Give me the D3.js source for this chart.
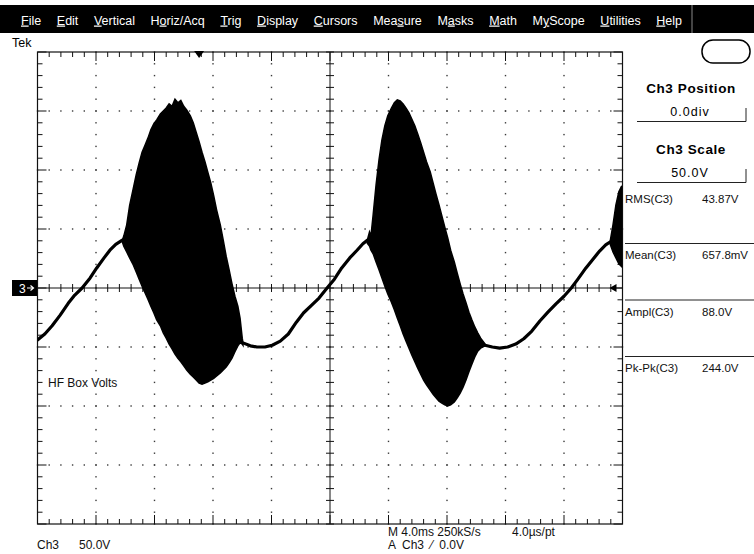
<!DOCTYPE html>
<html lang="en">
<head>
<meta charset="UTF-8">
<title>HF Box Volts</title>
<script src="https://d3js.org/d3.v7.min.js"></script>
<style>
    body{margin:0;background:#fff;}
    svg{display:block;font-family:"Liberation Sans",Arial,sans-serif;}
    .menu text{fill:#fff;font-size:12.5px;}
    .panel{font-size:11.5px;fill:#111;}
    .readout{font-size:12px;fill:#111;white-space:pre;}
</style>
</head>
<body>
<div id="fig"></div>
<script>
    // ---- data (time in ms, level in V) ----
    let menuItems = ["File","Edit","Vertical","Horiz/Acq","Trig","Display","Cursors","Measure","Masks","Math","MyScope","Utilities","Help"]
    let menuKeys  = [0,0,0,1,0,0,0,3,1,0,1,0,0]

    let measNames  = ["RMS(C3)","Mean(C3)","Ampl(C3)","Pk-Pk(C3)"]
    let measValues = ["43.87V","657.8mV","88.0V","244.0V"]

    let chLabel = "Ch3", chScale = "50.0V", chPos = "0.0div"
    let timebase = "M 4.0ms 250kS/s", perPoint = "4.0\u00b5s/pt"
    let trigText = "A  Ch3  \u2044  0.0V"
    let trigPos = 11.05, trigLevel = 0

    let sineA = [[0.0,-44],[0.5,-39],[1.0,-32],[1.55,-23],[2.1,-13],[2.55,-6],[3.05,0],[3.6,8.5],
                 [4.05,17],[4.55,25.5],[4.95,32],[5.35,37],[5.8,40.5]]
    let sineB = [[14.05,-46.5],[14.55,-49],[15.0,-50],[15.55,-50],[16.05,-48.5],[16.6,-45],[17.15,-39],
                 [17.7,-29],[18.2,-21],[18.75,-14.5],[19.25,-8.5],[19.8,0],[20.3,7.5],[20.8,17],
                 [21.35,25.5],[21.85,32],[22.25,37.5],[22.55,40.5]]
    let sineC = [[30.6,-48.5],[31.1,-50],[31.6,-51],[32.15,-50],[32.7,-47.5],[33.25,-43],[33.8,-36.5],
                 [34.35,-28],[34.9,-20.5],[35.45,-13.5],[36.0,-7],[36.5,0],[36.95,7.5],[37.5,17],
                 [38.05,25.5],[38.45,31.5],[38.85,36.5],[39.15,39]]

    // bursts: [time, upper, lower]
    let burst1 = [[5.8,40.5,39],[5.9,44,35.5],[6.1,53.5,30.5],[6.3,70,25.5],[6.55,84.5,19.5],[6.75,96,13.5],
                  [6.95,106,7.5],[7.15,115,1.5],[7.35,121,-4],[7.55,127,-9.5],[7.75,134,-15.5],[7.95,139,-21],
                  [8.15,142.5,-27],[8.4,147.5,-32],[8.6,150,-38],[8.8,152.5,-42.5],[9.0,156,-47.5],[9.2,154,-51.5],
                  [9.4,160,-56],[9.6,157,-59.5],[9.8,159,-62.5],[10.0,154,-66],[10.2,151,-69.5],[10.45,146,-73],
                  [10.65,140,-75.5],[10.85,132,-78],[11.05,124,-80.5],[11.25,115,-81.5],[11.45,107,-80.5],
                  [11.65,98,-79.5],[11.85,89,-78],[12.05,78,-76.5],[12.25,66,-74.5],[12.5,53.5,-72],
                  [12.7,40.5,-69.5],[12.9,27,-67],[13.1,15.5,-63.5],[13.3,3.5,-59.5],[13.5,-7,-54],
                  [13.7,-15.5,-49],[13.85,-25.5,-46.5],[14.0,-42.5,-47.5],[14.05,-46.5,-48.5]]
    let burst2 = [[22.55,40.5,38],[22.7,47.5,35.5],[22.8,44,32],[22.95,62,29],[23.15,87.5,22],[23.35,108.5,15.5],
                  [23.55,125.5,8.5],[23.75,137.5,1.5],[23.95,146,-5],[24.2,152.5,-12],[24.4,157,-18.5],
                  [24.6,159.5,-25.5],[24.8,158.5,-32],[25.0,156,-39],[25.2,152.5,-45],[25.4,148.5,-51],
                  [25.6,143,-57],[25.8,137.5,-62.5],[26.0,130.5,-68],[26.2,123,-73],[26.4,115,-78],
                  [26.6,107,-82],[26.85,98.5,-86.5],[27.05,89,-90],[27.25,79.5,-93],[27.45,70.5,-96],
                  [27.65,61,-97.5],[27.85,51.5,-99],[28.05,42.5,-100],[28.25,32,-99],[28.5,22,-96.5],
                  [28.7,12.5,-93],[28.9,3.5,-89],[29.1,-5,-84],[29.3,-12.5,-78],[29.5,-20.5,-71],
                  [29.7,-27,-64.5],[29.9,-33,-58.5],[30.1,-38,-53.5],[30.3,-42.5,-51],[30.6,-47.5,-49]]
    let burst3 = [[39.15,39,37.5],[39.35,53.5,30.5],[39.55,70.5,25.5],[39.75,81.5,20.5],[39.95,86.5,18]]

    // ---- layout ----
    let W = 754, H = 554
    let svg = d3.select("#fig").append("svg").attr("width",W).attr("height",H)
    svg.append("rect").attr("width",W).attr("height",H).attr("fill","#fff")

    let x = d3.scaleLinear().domain([0,40]).range([37.5,622.5])
    let y = d3.scaleLinear().domain([-200,200]).range([524,52])

    // menu bar
    let menu = svg.append("g").attr("class","menu")
    menu.append("rect").attr("x",0).attr("y",5).attr("width",W).attr("height",28).attr("fill","#000")
    menu.append("line").attr("x1",692).attr("x2",692).attr("y1",5).attr("y2",33).attr("stroke","#888")
    let items = menu.selectAll(".item").data(menuItems).enter().append("text")
        .attr("class","item").attr("y",24.5)
    items.each(function (d,i){
        let k = menuKeys[i]
        let t = d3.select(this)
        t.append("tspan").text(d.slice(0,k))
        t.append("tspan").style("text-decoration","underline").text(d[k])
        t.append("tspan").text(d.slice(k+1))
    })
    let widths = []
    items.each(function (){ widths.push(this.getComputedTextLength()) })
    let gap = (682 - 21 - d3.sum(widths)) / (menuItems.length-1)
    let cx = 21
    items.attr("x",function (d,i){ let p = cx; cx += widths[i]+gap; return p })

    svg.append("text").attr("x",12).attr("y",47).attr("font-size",12.5).text("Tek")

    // ---- graticule ----
    let grat = svg.append("g")
    let minorT = d3.range(0,40.001,0.8)
    let minorV = d3.range(-200,200.001,10)
    let majorT = d3.range(4,36.001,4).filter(function (t){return t!==20})
    let majorV = d3.range(-150,150.001,50).filter(function (v){return v!==0})

    let dots = []
    majorT.forEach(function (t){ minorV.forEach(function (v){ dots.push([t,v]) }) })
    majorV.forEach(function (v){ minorT.forEach(function (t){ dots.push([t,v]) }) })
    grat.selectAll(".dot").data(dots).enter().append("rect")
        .attr("x",function (d){return x(d[0])-0.7}).attr("y",function (d){return y(d[1])-0.7})
        .attr("width",1.4).attr("height",1.4).attr("fill","#3a3a3a")

    let isMajorT = function (t){ return Math.abs(t/4-Math.round(t/4))<1e-6 }
    let isMajorV = function (v){ return Math.abs(v/50-Math.round(v/50))<1e-6 }
    let tk = grat.append("g").attr("stroke","#111").attr("stroke-width",1)
    // border ticks and centre-line ticks
    minorT.forEach(function (t){
        let L = isMajorT(t) ? 9 : 5
        tk.append("line").attr("x1",x(t)).attr("x2",x(t)).attr("y1",y(200)).attr("y2",y(200)+L)
        tk.append("line").attr("x1",x(t)).attr("x2",x(t)).attr("y1",y(-200)).attr("y2",y(-200)-L)
        tk.append("line").attr("x1",x(t)).attr("x2",x(t)).attr("y1",y(0)-4).attr("y2",y(0)+4)
    })
    minorV.forEach(function (v){
        let L = isMajorV(v) ? 9 : 5
        tk.append("line").attr("y1",y(v)).attr("y2",y(v)).attr("x1",x(0)).attr("x2",x(0)+L)
        tk.append("line").attr("y1",y(v)).attr("y2",y(v)).attr("x1",x(40)).attr("x2",x(40)-L)
        tk.append("line").attr("y1",y(v)).attr("y2",y(v)).attr("x1",x(20)-4).attr("x2",x(20)+4)
    })
    tk.append("line").attr("x1",x(0)).attr("x2",x(40)).attr("y1",y(0)).attr("y2",y(0))
    tk.append("line").attr("x1",x(20)).attr("x2",x(20)).attr("y1",y(200)).attr("y2",y(-200))
    grat.append("rect").attr("x",x(0)).attr("y",y(200)).attr("width",x(40)-x(0)).attr("height",y(-200)-y(200))
        .attr("fill","none").attr("stroke","#111").attr("stroke-width",1.2)

    // ---- waveform ----
    svg.append("clipPath").attr("id","clip").append("rect")
        .attr("x",x(0)).attr("y",y(200)).attr("width",x(40)-x(0)).attr("height",y(-200)-y(200))
    let wave = svg.append("g").attr("clip-path","url(#clip)")
    let line = d3.line().x(function (d){return x(d[0])}).y(function (d){return y(d[1])})
    let area = d3.area().x(function (d){return x(d[0])})
        .y0(function (d){return y(d[2])}).y1(function (d){return y(d[1])})
    wave.selectAll(".seg").data([sineA,sineB,sineC]).enter().append("path")
        .attr("d",line).attr("fill","none").attr("stroke","#000").attr("stroke-width",3.2)
        .attr("stroke-linejoin","round").attr("stroke-linecap","round")
    wave.selectAll(".burst").data([burst1,burst2,burst3]).enter().append("path")
        .attr("d",area).attr("fill","#000").attr("stroke","#000").attr("stroke-width",1.5)

    // markers
    let tx = x(trigPos)
    svg.append("path").attr("d",`M${tx-5},${y(200)-1}L${tx+5},${y(200)-1}L${tx},${y(200)+6}Z`).attr("fill","#000")
    let ly = y(trigLevel)
    svg.append("path").attr("d",`M${x(40)-13},${ly}L${x(40)-6},${ly-4}L${x(40)-6},${ly+4}Z`).attr("fill","#000")
    svg.append("rect").attr("x",12).attr("y",y(0)-8).attr("width",25).attr("height",16).attr("fill","#000")
    svg.append("text").attr("x",19).attr("y",y(0)+4.5).attr("font-size",12).attr("fill","#fff").text("3")
    svg.append("path").attr("d",`M27,${y(0)}H33M30.5,${y(0)-2.5}L33.5,${y(0)}L30.5,${y(0)+2.5}`)
        .attr("stroke","#fff").attr("fill","none").attr("stroke-width",1.2)

    svg.append("text").attr("x",48).attr("y",387).attr("font-size",12).attr("fill","#111").text("HF Box Volts")

    // ---- right panel ----
    svg.append("rect").attr("x",702).attr("y",40).attr("width",48).attr("height",23).attr("rx",11)
        .attr("fill","none").attr("stroke","#000").attr("stroke-width",1.5)
    let fields = [["Ch3 Position",chPos],["Ch3 Scale",chScale]]
    fields.forEach(function (f,i){
        let top = 62 + i*61
        svg.append("text").attr("x",691).attr("y",top+31).attr("text-anchor","middle")
            .attr("font-size",13.5).attr("font-weight","bold").attr("letter-spacing",0.6).text(f[0])
        svg.append("text").attr("x",690).attr("y",top+54).attr("text-anchor","middle")
            .attr("font-size",12.5).attr("letter-spacing",1).text(f[1])
        svg.append("path").attr("d",`M637,${top+59.5}H746V${top+46}`).attr("fill","none").attr("stroke","#222")
    })
    measNames.forEach(function (m,i){
        let top = 187 + i*56.5
        if(i>0) svg.append("line").attr("x1",625).attr("x2",W).attr("y1",top).attr("y2",top).attr("stroke","#222")
        svg.append("text").attr("class","panel").attr("x",625).attr("y",top+15.5).text(m)
        svg.append("text").attr("class","panel").attr("x",702).attr("y",top+15.5).text(measValues[i])
    })

    // ---- bottom readouts ----
    svg.append("text").attr("class","readout").attr("x",37).attr("y",549).text(chLabel)
    svg.append("text").attr("class","readout").attr("x",79).attr("y",549).text(chScale)
    svg.append("text").attr("class","readout").attr("x",388).attr("y",536).text(timebase)
    svg.append("text").attr("class","readout").attr("x",512).attr("y",536).text(perPoint)
    svg.append("text").attr("class","readout").attr("x",388).attr("y",549).text(trigText)
</script>
</body>
</html>
